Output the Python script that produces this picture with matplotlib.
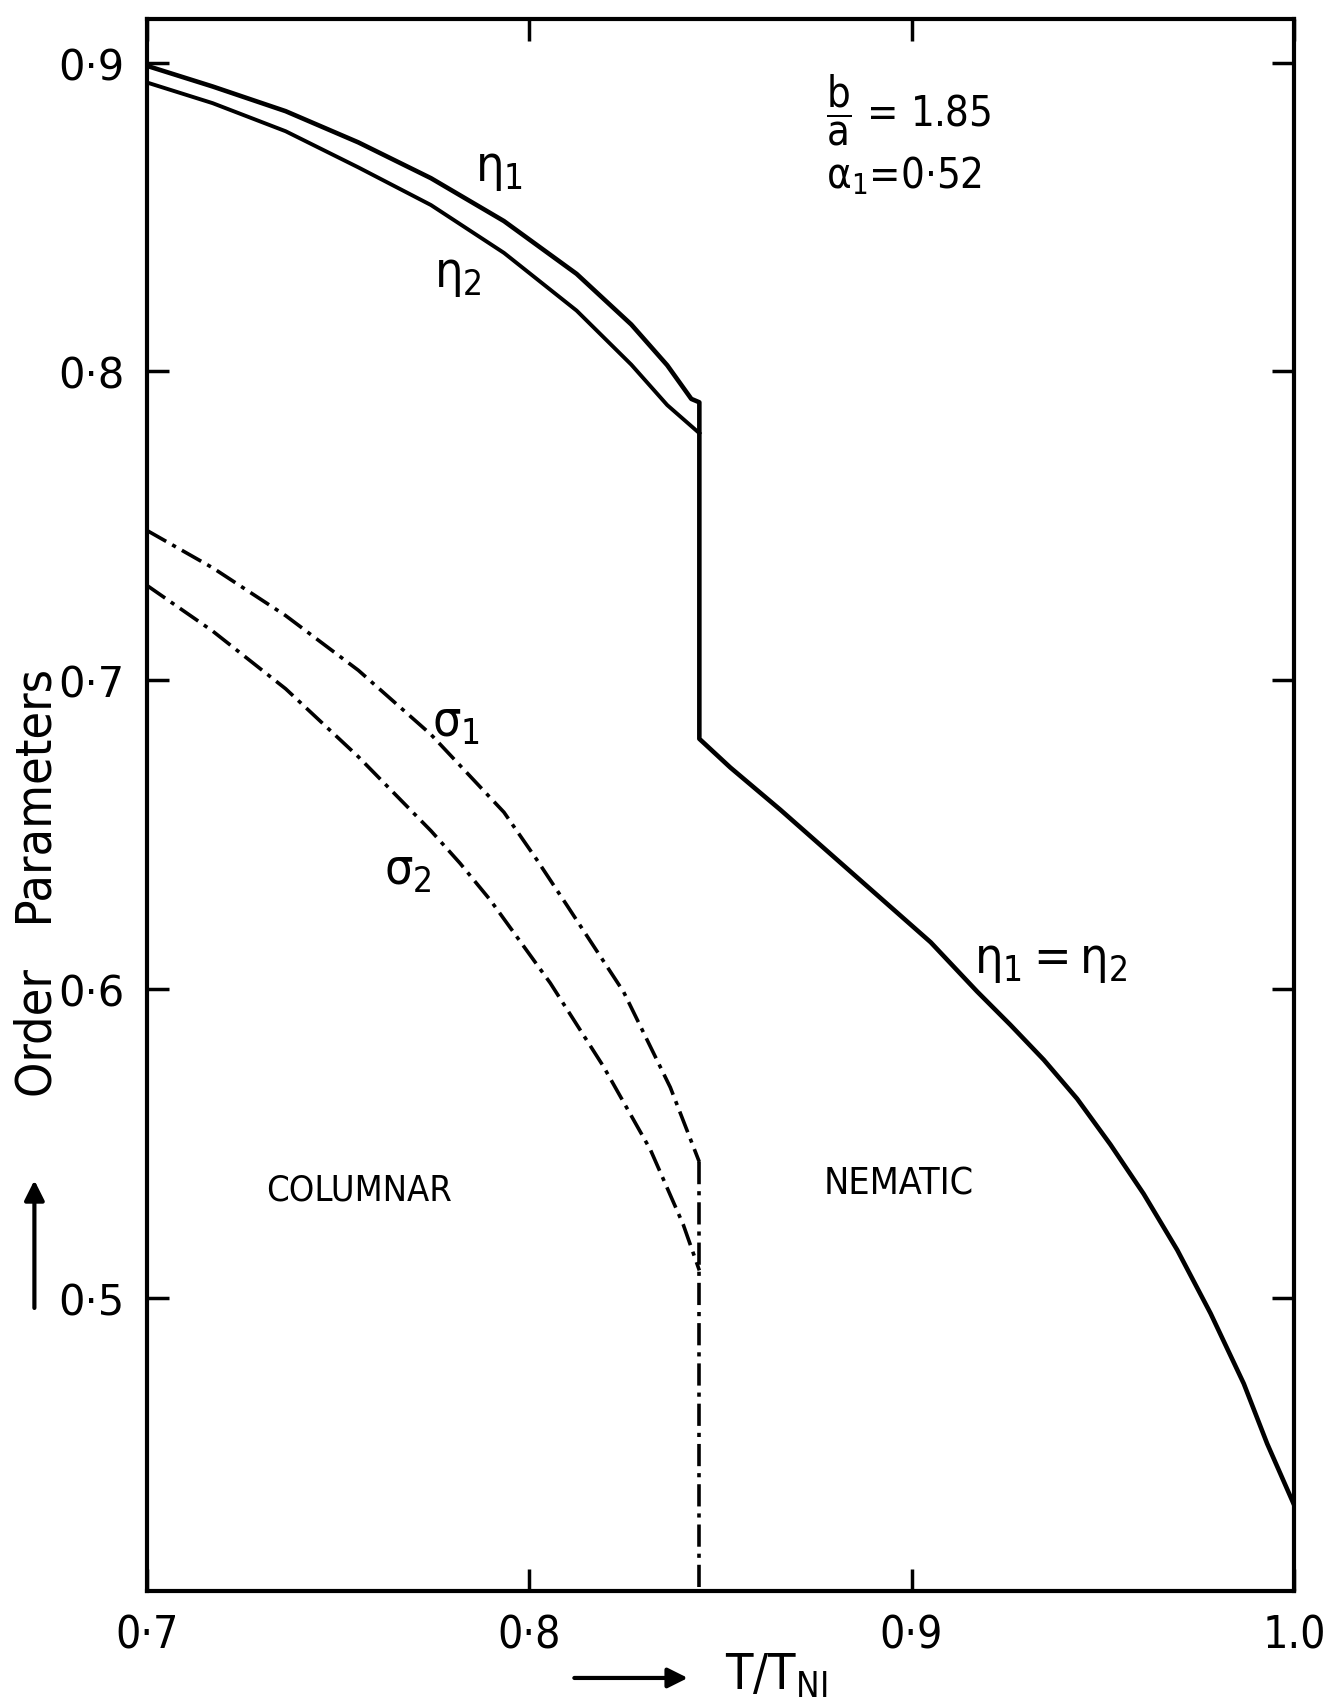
import matplotlib
matplotlib.use("Agg")
import matplotlib.pyplot as plt

plt.rcParams['font.family'] = ['DejaVu Sans']
plt.rcParams['font.stretch'] = 'condensed'
plt.rcParams['mathtext.fontset'] = 'dejavusans'
plt.rcParams['mathtext.default'] = 'regular'
plt.rcParams['lines.scale_dashes'] = False

# transition temperature (columnar -> nematic)
t_c = 0.8445

# eta_1 in the columnar phase
t_eta1 = [0.700, 0.7172, 0.7363, 0.7553, 0.7743, 0.7934, 0.8124, 0.8267, 0.8361, 0.8424, t_c]
eta1 = [0.8990, 0.8923, 0.8843, 0.8742, 0.8626, 0.8487, 0.8316, 0.8152, 0.8020, 0.7911, 0.7900]

# eta_2 in the columnar phase
t_eta2 = [0.700, 0.7172, 0.7363, 0.7553, 0.7743, 0.7934, 0.8124, 0.8267, 0.8361, t_c]
eta2 = [0.8936, 0.8869, 0.8778, 0.8661, 0.8539, 0.8384, 0.8197, 0.8022, 0.7891, 0.7800]

# eta_1 = eta_2 in the nematic phase
t_nem = [t_c, 0.8526, 0.8657, 0.8788, 0.8919, 0.9050, 0.9171, 0.9258, 0.9346,
         0.9433, 0.9520, 0.9607, 0.9695, 0.9782, 0.9869, 0.9930, 1.000]
eta_nem = [0.681, 0.6717, 0.6580, 0.6437, 0.6294, 0.6151, 0.5992, 0.5884, 0.5770,
           0.5644, 0.5496, 0.5336, 0.5154, 0.4949, 0.4721, 0.4527, 0.433]

# sigma_1, sigma_2 (columnar phase)
t_sig1 = [0.700, 0.7172, 0.7363, 0.7553, 0.7743, 0.7934, 0.8019, 0.8099, 0.8247, 0.8369, t_c]
sig1 = [0.7485, 0.7364, 0.7209, 0.7032, 0.6824, 0.6572, 0.6420, 0.6270, 0.5990, 0.5681, 0.5439]
t_sig2 = [0.700, 0.7172, 0.7363, 0.7553, 0.7743, 0.7819, 0.7898, 0.8055, 0.8194, 0.8317, 0.8403, t_c]
sig2 = [0.7307, 0.7159, 0.6972, 0.6752, 0.6512, 0.6407, 0.6288, 0.6019, 0.5749, 0.5479, 0.5236, 0.5088]

x_ticks = [0.7, 0.8, 0.9, 1.0]
x_labels = ['0·7', '0·8', '0·9', '1.0']
y_ticks = [0.5, 0.6, 0.7, 0.8, 0.9]
y_labels = ['0·5', '0·6', '0·7', '0·8', '0·9']
ylim = (0.405, 0.914)

fig = plt.figure(figsize=(13.23, 17.08), dpi=100)
ax = fig.add_axes([0.111, 0.068, 0.867, 0.920])

lw = 3.3
ax.plot(t_eta1 + t_nem, eta1 + eta_nem, color='black', lw=lw)
ax.plot(t_eta2, eta2, color='black', lw=lw * 0.85)

dd = (16, 5, 3, 5)
ax.plot(t_sig1, sig1, color='black', lw=2.6, dashes=dd)
ax.plot(t_sig2, sig2, color='black', lw=2.6, dashes=dd)
ax.plot([t_c, t_c], [sig1[-1], ylim[0]], color='black', lw=2.6, dashes=dd)

ax.set_xlim(0.7, 1.0)
ax.set_ylim(*ylim)
ax.set_xticks(x_ticks)
ax.set_xticklabels(x_labels, fontsize=32)
ax.set_yticks(y_ticks)
ax.set_yticklabels(y_labels, fontsize=30, fontstretch='normal')
ax.tick_params(direction='in', length=16, width=2.5, top=True, right=True)
ax.tick_params(axis='y', pad=16)
ax.tick_params(axis='x', pad=16)
for s in ax.spines.values():
    s.set_linewidth(3)

# labels on the curves
fs = 36
ax.text(0.7920, 0.8660, r'$\eta_1$', fontsize=fs, ha='center', va='center')
ax.text(0.7814, 0.8317, r'$\eta_2$', fontsize=fs, ha='center', va='center')
ax.text(0.7809, 0.6864, r'$\sigma_1$', fontsize=fs, ha='center', va='center')
ax.text(0.7684, 0.6384, r'$\sigma_2$', fontsize=fs, ha='center', va='center')
ax.text(0.9365, 0.6095, r'$\eta_1 = \eta_2$', fontsize=fs, ha='center', va='center')
ax.text(0.7556, 0.535, 'COLUMNAR', fontsize=26, ha='center', va='center')
ax.text(0.8966, 0.537, 'NEMATIC', fontsize=27, ha='center', va='center')
ax.text(0.8775, 0.8849, r'$\dfrac{b}{a}$ = 1.85', fontsize=30, ha='left', va='center')
ax.text(0.8775, 0.8637, r'$\alpha_1$=0·52', fontsize=30, ha='left', va='center')

# axis titles with separate arrows, as in the original
fig.text(0.028, 0.483, 'Order   Parameters', fontsize=36,
         rotation=90, ha='center', va='center')
ax.annotate('', xy=(0.026, 0.310), xytext=(0.026, 0.232),
            xycoords='figure fraction', textcoords='figure fraction',
            arrowprops=dict(arrowstyle='-|>', lw=3, color='black',
                            mutation_scale=30), annotation_clip=False)
fig.text(0.548, 0.019, 'T/T$_{NI}$', fontsize=36, ha='left', va='center')
ax.annotate('', xy=(0.522, 0.017), xytext=(0.432, 0.017),
            xycoords='figure fraction', textcoords='figure fraction',
            arrowprops=dict(arrowstyle='-|>', lw=3, color='black',
                            mutation_scale=30), annotation_clip=False)

fig.savefig('out.png', dpi=100)
